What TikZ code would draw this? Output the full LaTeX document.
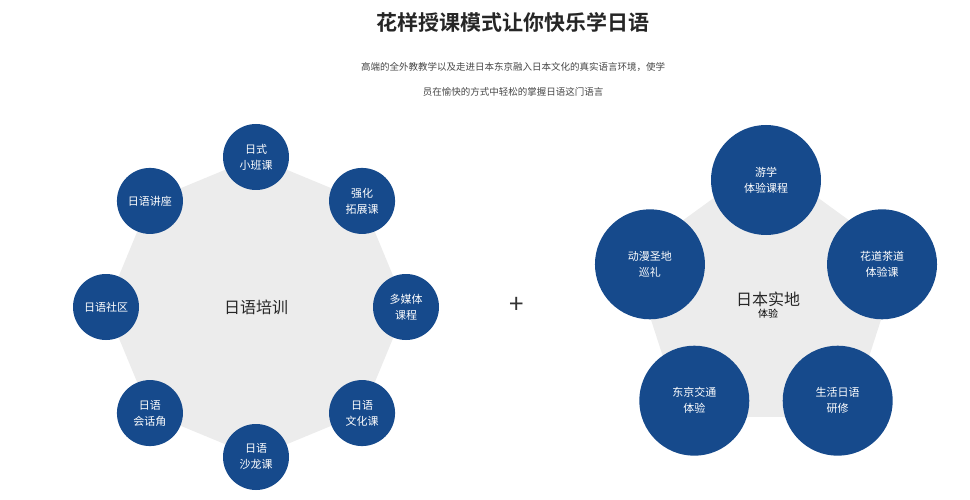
\documentclass[tikz,border=0pt]{standalone}
\usepackage{fontspec}
\setmainfont{Noto Sans CJK SC}
\newfontfamily\cjkbold{Noto Sans CJK SC Bold}
\usepackage{xcolor}
\definecolor{deep_blue}{RGB}{22,74,140}
\definecolor{light_gray}{RGB}{236,236,236}
\definecolor{text_gray}{RGB}{70,70,70}
\usepackage{tikz}
\usetikzlibrary{calc}

\begin{document}
\begin{tikzpicture}[x=1pt,y=-1pt,
  ball/.style={circle, fill=deep_blue, text=white, minimum size=#1, inner sep=0pt, align=center, font=\fontsize{11}{16}\selectfont},
  ball/.default=66]
\useasboundingbox (0,0) rectangle (970,500);

\draw (513,22) node (title) {\fontsize{21}{24}\selectfont\cjkbold\color{black!85}花样授课模式让你快乐学日语};
\draw (513,67) node (sub1) {\fontsize{9.5}{12}\selectfont\color{text_gray}高端的全外教教学以及走进日本东京融入日本文化的真实语言环境，使学};
\draw (513,92) node (sub2) {\fontsize{9.5}{12}\selectfont\color{text_gray}员在愉快的方式中轻松的掌握日语这门语言};

% left octagon
\fill [light_gray] (256,307) +(-90:150) \foreach \a in {45,0,...,-225} { -- +({-(\a)}:150) } -- cycle;
\draw (256,307) node (center_left) {\fontsize{16}{20}\selectfont\color{black!85}日语培训};
\foreach \a/\t [count=\i] in {90/日式\\小班课, 45/强化\\拓展课, 0/多媒体\\课程, -45/日语\\文化课,
  -90/日语\\沙龙课, -135/日语\\会话角, 180/日语社区, 135/日语讲座}
  \node [ball] (l\i) at ($(256,307)+({-(\a)}:150)$) {\t};

\draw (517,305) node (plus) {\fontsize{26}{26}\selectfont\color{black!80}+};

% right pentagon
\fill [light_gray] (766,302) +(-90:142) \foreach \a in {18,-54,-126,162} { -- +({-(\a)}:142) } -- cycle;
\draw (768,305) node [align=center] (center_right) {\fontsize{16}{22}\selectfont\color{black!85}日本实地\\体验};
\foreach \a/\t [count=\i] in {90/游学\\体验课程, 18/花道茶道\\体验课, -54/生活日语\\研修, -126/东京交通\\体验, 162/动漫圣地\\巡礼}
  \node [ball=110] (r\i) at ($(766,302)+({-(\a)}:122)$) {\t};

\end{tikzpicture}
\end{document}
